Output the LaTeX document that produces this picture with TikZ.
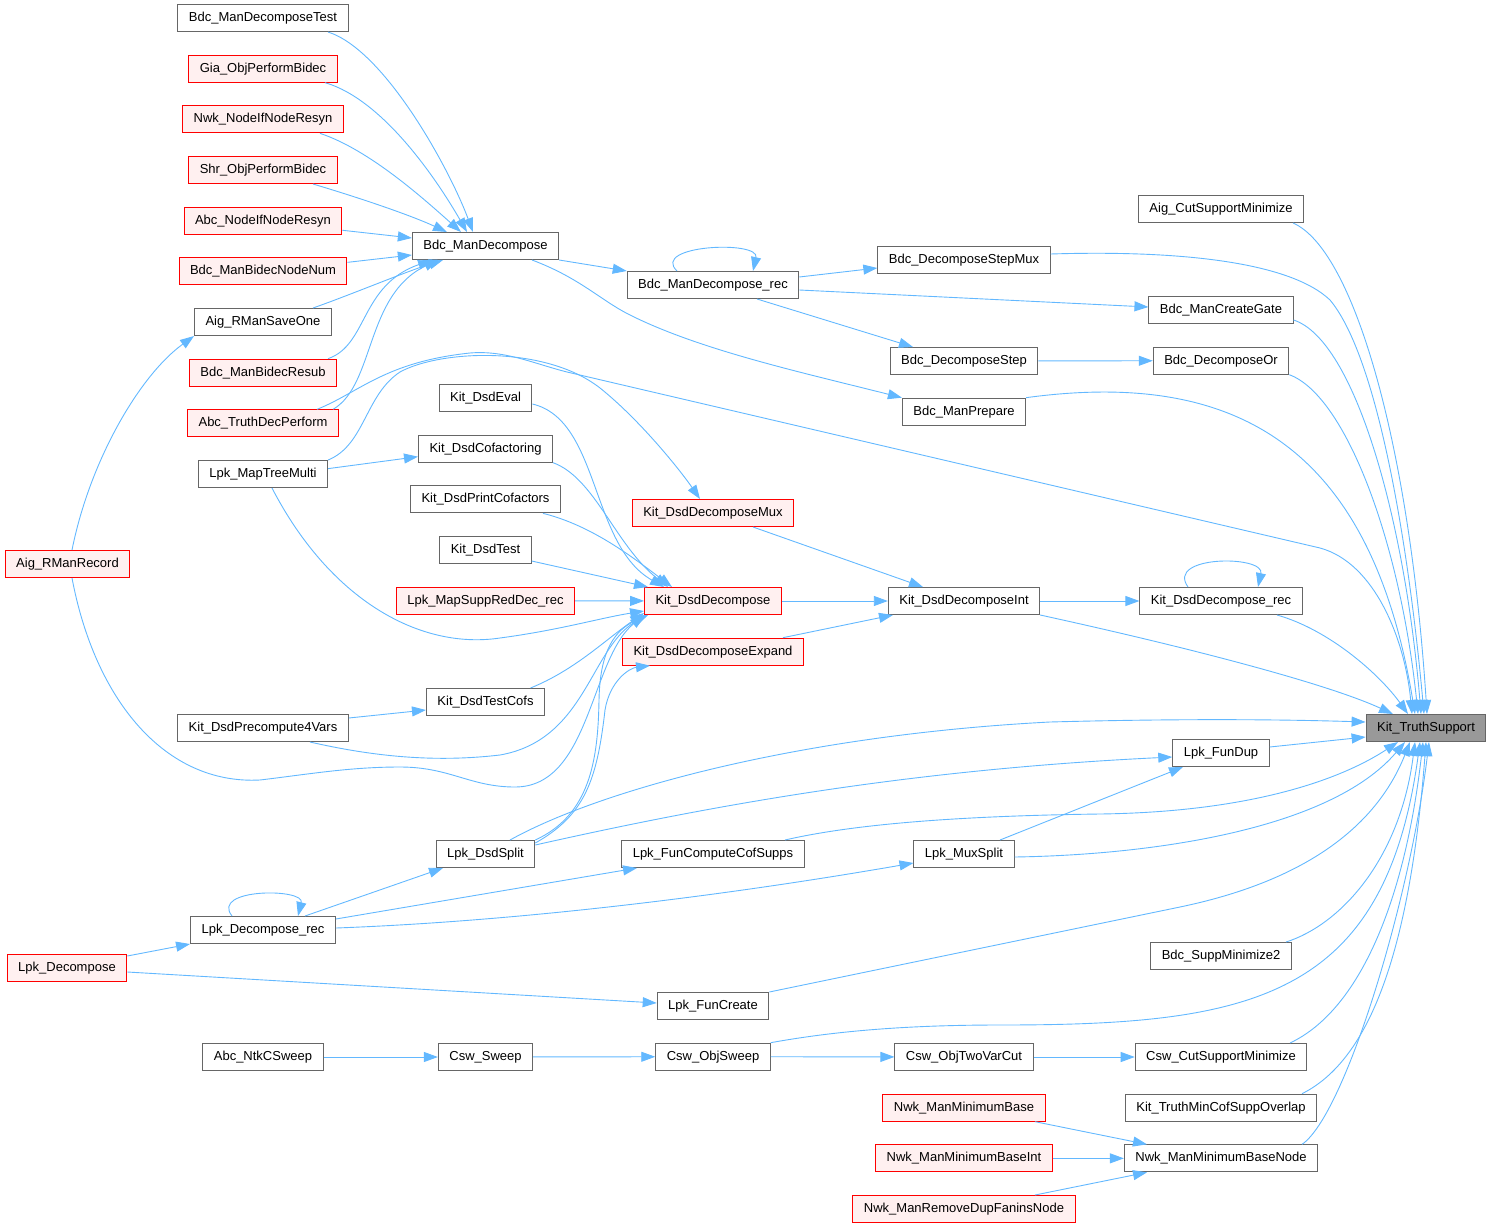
\documentclass[tikz,border=0pt]{standalone}
\usepackage{fontspec}
\setmainfont{Liberation Sans}
\usetikzlibrary{arrows.meta}
\definecolor{callblue}{RGB}{99,184,255}
\definecolor{boxgrey}{RGB}{102,102,102}
\definecolor{hotred}{RGB}{255,0,0}
\definecolor{hotfill}{RGB}{255,240,240}
\definecolor{rootgrey}{RGB}{153,153,153}

\begin{document}
\begin{tikzpicture}[x=1pt, y=-1pt, node distance=50.67pt]
    \tikzstyle{func} = [rectangle, draw=boxgrey, fill=white, line width=1pt, minimum height=27pt, inner xsep=11pt, font=\fontsize{13pt}{15pt}\selectfont]
    \tikzstyle{hot} = [func, draw=hotred, fill=hotfill]
    \tikzstyle{root} = [func, fill=rootgrey]
    \tikzstyle{arrow} = [draw=callblue, line width=0.9pt, -{Triangle[length=14pt,width=10pt]}]

    \useasboundingbox (0,0) rectangle (1491,1228);

    \node[func] (mdt) at (263,18) {Bdc\_ManDecomposeTest};
    \node[hot, below of=mdt] (gia) {Gia\_ObjPerformBidec};
    \node[hot, below of=gia] (nwkif) {Nwk\_NodeIfNodeResyn};
    \node[hot, below of=nwkif] (shr) {Shr\_ObjPerformBidec};
    \node[hot, below of=shr] (abcif) {Abc\_NodeIfNodeResyn};
    \node[hot, below of=abcif] (bidnum) {Bdc\_ManBidecNodeNum};
    \node[func, below of=bidnum] (saveone) {Aig\_RManSaveOne};
    \node[hot, below of=saveone] (bidresub) {Bdc\_ManBidecResub};
    \node[hot, below of=bidresub] (truthdec) {Abc\_TruthDecPerform};
    \node[func, below of=truthdec] (maptree) {Lpk\_MapTreeMulti};
    \node[func] (precomp) at (263,728) {Kit\_DsdPrecompute4Vars};
    \node[func] (lpkrec) at (263,930) {Lpk\_Decompose\_rec};
    \node[func] (ntkcsweep) at (263,1057) {Abc\_NtkCSweep};
    \node[hot] (aigrec) at (67.5,564) {Aig\_RManRecord};
    \node[hot] (lpkdec) at (67,968) {Lpk\_Decompose};

    \node[func] (mandec) at (485.5,246) {Bdc\_ManDecompose};
    \node[func] (dsdeval) at (485.5,398) {Kit\_DsdEval};
    \node[func, below of=dsdeval] (cofact) {Kit\_DsdCofactoring};
    \node[func, below of=cofact] (printcof) {Kit\_DsdPrintCofactors};
    \node[func, below of=printcof] (dsdtest) {Kit\_DsdTest};
    \node[hot, below of=dsdtest] (suppred) {Lpk\_MapSuppRedDec\_rec};
    \node[func] (testcofs) at (485.5,702) {Kit\_DsdTestCofs};
    \node[func] (dsdsplit) at (485.5,854) {Lpk\_DsdSplit};
    \node[func] (cswsweep) at (485.5,1057) {Csw\_Sweep};

    \node[func] (bdcrec) at (713,285) {Bdc\_ManDecompose\_rec};
    \node[hot] (decmux) at (713,513) {Kit\_DsdDecomposeMux};
    \node[hot] (dsddec) at (713,601) {Kit\_DsdDecompose};
    \node[hot, below of=dsddec] (dsdexp) {Kit\_DsdDecomposeExpand};
    \node[func] (cofsupps) at (713,854) {Lpk\_FunComputeCofSupps};
    \node[func] (funcreate) at (713,1006) {Lpk\_FunCreate};
    \node[func, below of=funcreate] (objsweep) {Csw\_ObjSweep};

    \node[func] (stepmux) at (964,260) {Bdc\_DecomposeStepMux};
    \node[func] (step) at (964,361) {Bdc\_DecomposeStep};
    \node[func, below of=step] (prepare) {Bdc\_ManPrepare};
    \node[func] (dsdint) at (964,601) {Kit\_DsdDecomposeInt};
    \node[func] (muxsplit) at (964,854) {Lpk\_MuxSplit};
    \node[func] (twovar) at (964,1057) {Csw\_ObjTwoVarCut};
    \node[hot, below of=twovar] (minbase) {Nwk\_ManMinimumBase};
    \node[hot, below of=minbase] (minbaseint) {Nwk\_ManMinimumBaseInt};
    \node[hot, below of=minbaseint] (removedup) {Nwk\_ManRemoveDupFaninsNode};

    \node[func] (cutsupp) at (1221,209) {Aig\_CutSupportMinimize};
    \node[func] (creategate) at (1221,310) {Bdc\_ManCreateGate};
    \node[func, below of=creategate] (decor) {Bdc\_DecomposeOr};
    \node[func] (dsdrec) at (1221,601) {Kit\_DsdDecompose\_rec};
    \node[func] (fundup) at (1221,753) {Lpk\_FunDup};
    \node[func] (suppmin2) at (1221,956) {Bdc\_SuppMinimize2};
    \node[func] (cswcut) at (1221,1057) {Csw\_CutSupportMinimize};
    \node[func, below of=cswcut] (mincof) {Kit\_TruthMinCofSuppOverlap};
    \node[func, below of=mincof] (minbasenode) {Nwk\_ManMinimumBaseNode};

    \node[root] (truthsupp) at (1426,728) {Kit\_TruthSupport};

    \draw[arrow] ([xshift=65pt]mdt.south) .. controls (385,50) and (450,170) .. ([xshift=-12.5pt]mandec.north);
    \draw[arrow] ([xshift=62pt]gia.south) .. controls (385,100) and (440,185) .. ([xshift=-18.5pt]mandec.north);
    \draw[arrow] ([xshift=57pt]nwkif.south) .. controls (370,150) and (425,200) .. ([xshift=-24.5pt]mandec.north);
    \draw[arrow] ([xshift=50pt]shr.south) .. controls (360,198) and (410,215) .. ([xshift=-38.5pt]mandec.north);
    \draw[arrow] ([yshift=-9.6pt]abcif.east) -- ([yshift=8pt]mandec.west);
    \draw[arrow] ([yshift=9pt]bidnum.east) -- ([yshift=-9pt]mandec.west);
    \draw[arrow] ([xshift=50pt]saveone.north) .. controls (350,295) and (405,272) .. ([xshift=-42.5pt]mandec.south);
    \draw[arrow] ([xshift=65pt]bidresub.north) .. controls (368,345) and (360,285) .. ([xshift=-53.5pt]mandec.south);
    \draw[arrow] ([xshift=70pt]truthdec.north) .. controls (375,385) and (365,295) .. ([xshift=-47.5pt]mandec.south);
    \draw[arrow] ([xshift=4.5pt]aigrec.north) .. controls (90,460) and (140,375) .. (saveone.south west);
    \draw[arrow] ([xshift=4.5pt]aigrec.south) .. controls (95,700) and (165,785) .. (260,780) .. controls (310,774) and (350,767) .. (400,767) .. controls (450,767) and (470,787) .. (515,787) .. controls (590,787) and (590,660) .. (dsddec.south west);

    \draw[arrow] ([yshift=5.4pt]maptree.east) -- ([yshift=-8pt]cofact.west);
    \draw[arrow] (maptree.north east) .. controls (365,445) and (365,395) .. (400,372) .. controls (440,350) and (545,345) .. (600,388) .. controls (640,420) and (680,470) .. ([xshift=-13pt]decmux.north);
    \draw[arrow] ([xshift=9pt]maptree.south) .. controls (330,600) and (420,650) .. (500,638) .. controls (560,630) and (600,618) .. ([yshift=-10pt]dsddec.west);
    \draw[arrow] ([xshift=54pt]truthdec.north) .. controls (360,392) and (385,362) .. (470,353) .. controls (505,350) and (535,364) .. (567,372) -- (1320,548) .. controls (1375,563) and (1405,640) .. ([xshift=-14pt]truthsupp.north);

    \draw[arrow] ([yshift=-6pt]dsdeval.east) .. controls (600,420) and (590,545) .. ([xshift=-49pt]dsddec.north);
    \draw[arrow] (cofact.south east) .. controls (595,478) and (615,545) .. ([xshift=-45pt]dsddec.north);
    \draw[arrow] ([xshift=57.5pt]printcof.south) .. controls (590,525) and (630,555) .. ([xshift=-41pt]dsddec.north);
    \draw[arrow] ([yshift=-11pt]dsdtest.east) -- ([xshift=-65pt]dsddec.north);
    \draw[arrow] (suppred) -- (dsddec);
    \draw[arrow] ([xshift=45pt]testcofs.north) .. controls (575,670) and (605,640) .. ([yshift=-12pt]dsddec.west);
    \draw[arrow] ([xshift=47pt]precomp.south) .. controls (380,758) and (440,762) .. (500,755) .. controls (585,740) and (590,650) .. ([xshift=2pt]dsddec.south west);
    \draw[arrow] (dsdsplit.north east) .. controls (590,815) and (598,760) .. (599,700) .. controls (600,650) and (615,630) .. ([xshift=4pt]dsddec.south west);
    \draw[arrow] ([yshift=-3pt]dsdsplit.north east) .. controls (585,815) and (597,780) .. (605,710) .. controls (610,680) and (630,668) .. ([xshift=-63pt]dsdexp.south);
    \draw[arrow] ([yshift=10pt]precomp.east) -- ([yshift=-8pt]testcofs.west);

    \draw[arrow] ([xshift=24.5pt]dsdsplit.north) .. controls (600,790) and (800,735) .. (1050,722) .. controls (1200,718) and (1300,720) .. ([yshift=6pt]truthsupp.west);
    \draw[arrow] ([yshift=-5pt]dsdsplit.north east) .. controls (700,808) and (900,770) .. ([yshift=-4pt]fundup.west);
    \draw[arrow] ([yshift=6pt]fundup.east) -- ([yshift=-9pt]truthsupp.west);
    \draw[arrow] ([xshift=36pt]muxsplit.north) -- ([xshift=-38pt]fundup.south);
    \draw[arrow] ([yshift=-3pt]muxsplit.east) .. controls (1150,855) and (1330,830) .. ([xshift=-21pt]truthsupp.south);
    \draw[arrow] ([xshift=72pt]cofsupps.north) .. controls (850,825) and (950,816) .. (1100,814) .. controls (1250,812) and (1340,780) .. ([xshift=-28pt]truthsupp.south);
    \draw[arrow] (funcreate.north east) -- (1180,907) .. controls (1300,882) and (1375,830) .. ([xshift=-16pt]truthsupp.south);
    \draw[arrow] ([xshift=65pt]suppmin2.north) .. controls (1340,925) and (1400,860) .. ([xshift=-11pt]truthsupp.south);
    \draw[arrow] (objsweep.north east) .. controls (830,1032) and (900,1025) .. (1000,1025) .. controls (1250,1025) and (1385,1000) .. ([xshift=-6pt]truthsupp.south);
    \draw[arrow] ([xshift=69pt]cswcut.north) .. controls (1360,1010) and (1405,900) .. ([xshift=-3pt]truthsupp.south);
    \draw[arrow] ([xshift=81pt]mincof.north) .. controls (1370,1060) and (1410,950) .. (truthsupp.south);
    \draw[arrow] ([xshift=81pt]minbasenode.north) .. controls (1345,1115) and (1410,900) .. ([xshift=3pt]truthsupp.south);
    \draw[arrow] (dsdint.south east) .. controls (1200,650) and (1330,685) .. ([xshift=-33pt]truthsupp.north);
    \draw[arrow] ([xshift=56pt]dsdrec.south) .. controls (1330,630) and (1380,675) .. ([xshift=-18pt]truthsupp.north);
    \draw[arrow] ([xshift=72pt]cutsupp.south) .. controls (1355,250) and (1410,450) .. ([xshift=1pt]truthsupp.north);
    \draw[arrow] ([yshift=6pt]stepmux.east) .. controls (1180,250) and (1290,262) .. (1330,300) .. controls (1380,360) and (1410,560) .. ([xshift=-2pt]truthsupp.north);
    \draw[arrow] ([yshift=-10pt]creategate.east) .. controls (1355,340) and (1405,520) .. ([xshift=-5pt]truthsupp.north);
    \draw[arrow] (decor.south east) .. controls (1345,395) and (1400,540) .. ([xshift=-8pt]truthsupp.north);
    \draw[arrow] (prepare.north east) .. controls (1230,370) and (1370,440) .. ([xshift=-11pt]truthsupp.north);

    \draw[arrow] (mandec.south east) -- (bdcrec.north west);
    \draw[arrow] ([xshift=46.5pt]mandec.south) .. controls (580,278) and (600,300) .. (630,315) .. controls (700,350) and (800,372) .. (prepare.north west);
    \draw[arrow] ([xshift=-36pt]bdcrec.north) .. controls (650,245) and (760,240) .. ([xshift=40pt]bdcrec.north);
    \draw[arrow] ([yshift=8pt]bdcrec.east) -- ([yshift=-8pt]stepmux.west);
    \draw[arrow] ([yshift=-5pt]bdcrec.east) -- ([yshift=3pt]creategate.west);
    \draw[arrow] ([xshift=44pt]bdcrec.south) -- ([xshift=-51pt]step.north);
    \draw[arrow] (step) -- (decor);

    \draw[arrow] ([xshift=40pt]decmux.south) -- ([xshift=-41pt]dsdint.north);
    \draw[arrow] (dsddec) -- (dsdint);
    \draw[arrow] ([xshift=70pt]dsdexp.north) -- ([xshift=-71pt]dsdint.south);
    \draw[arrow] (dsdint) -- (dsdrec);
    \draw[arrow] ([xshift=-33pt]dsdrec.north) .. controls (1165,555) and (1265,555) .. ([xshift=37pt]dsdrec.north);

    \draw[arrow] ([yshift=12pt]lpkdec.east) -- (lpkrec.south west);
    \draw[arrow] ([yshift=-4pt]lpkdec.east) -- ([yshift=3pt]funcreate.west);
    \draw[arrow] ([xshift=-31pt]lpkrec.north) .. controls (210,888) and (305,888) .. ([xshift=35pt]lpkrec.north);
    \draw[arrow] ([xshift=42pt]lpkrec.north) -- ([xshift=-42.5pt]dsdsplit.south);
    \draw[arrow] ([yshift=11pt]lpkrec.east) -- ([xshift=-76pt]cofsupps.south);
    \draw[arrow] ([yshift=2pt]lpkrec.east) .. controls (500,922) and (700,900) .. ([yshift=-9pt]muxsplit.west);

    \draw[arrow] (ntkcsweep) -- (cswsweep);
    \draw[arrow] (cswsweep) -- (objsweep);
    \draw[arrow] (objsweep) -- (twovar);
    \draw[arrow] (twovar) -- (cswcut);

    \draw[arrow] ([xshift=71pt]minbase.south) -- ([xshift=-74pt]minbasenode.north);
    \draw[arrow] (minbaseint) -- (minbasenode);
    \draw[arrow] ([xshift=71pt]removedup.north) -- ([xshift=-74pt]minbasenode.south);
\end{tikzpicture}
\end{document}
